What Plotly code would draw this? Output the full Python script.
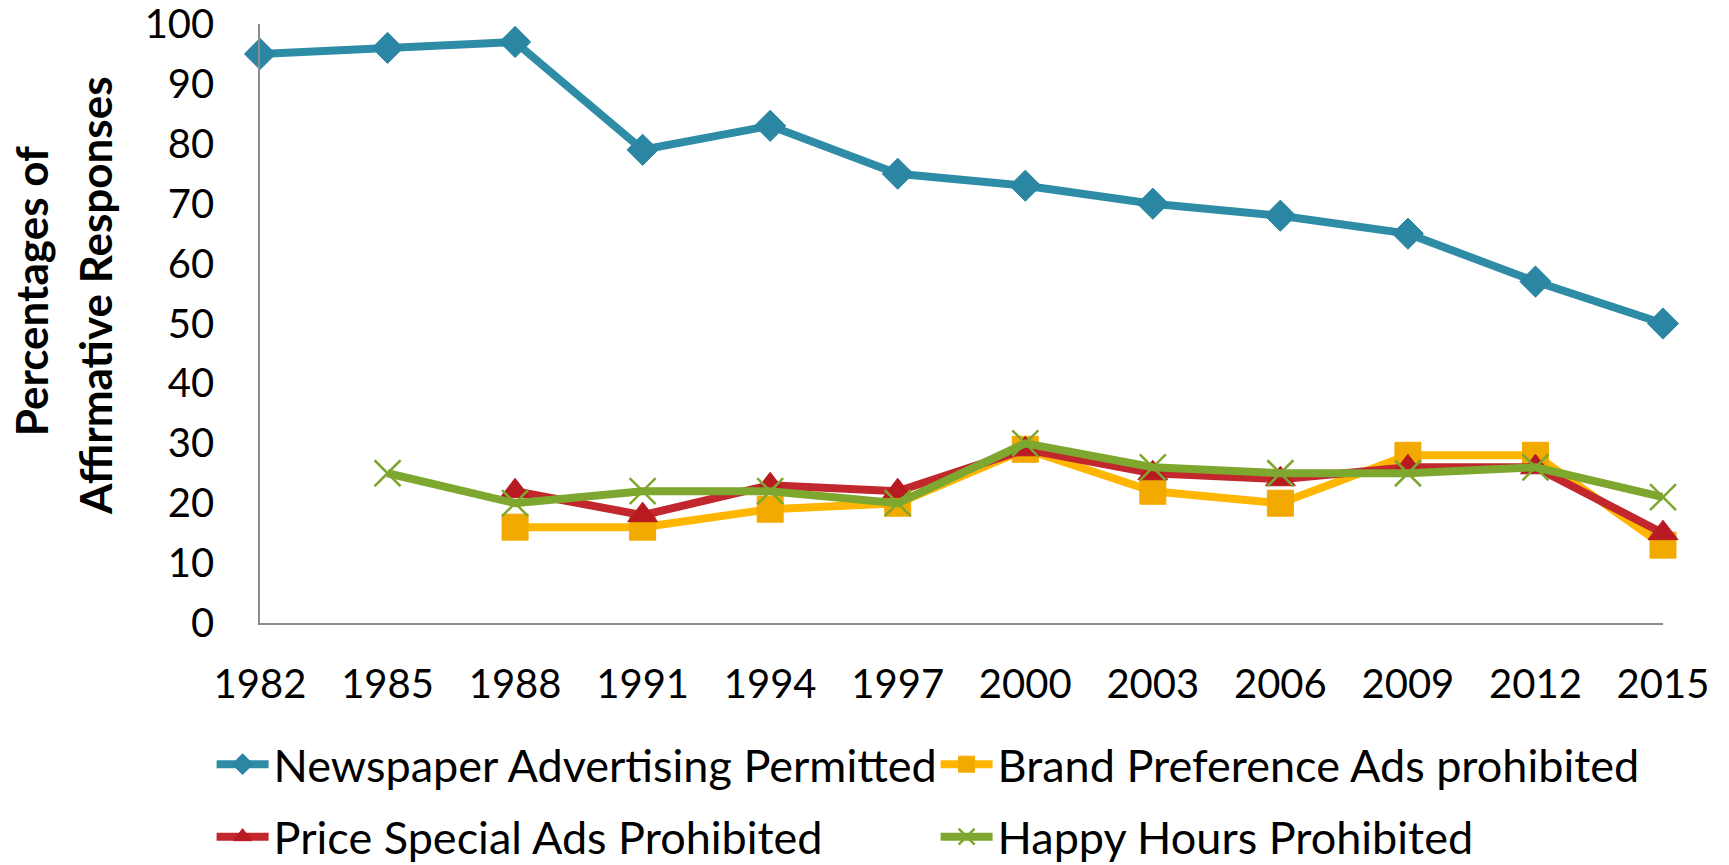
import plotly.graph_objects as go

years = [1982, 1985, 1988, 1991, 1994, 1997, 2000, 2003, 2006, 2009, 2012, 2015]
newspaper = [95, 96, 97, 79, 83, 75, 73, 70, 68, 65, 57, 50]
brand = [None, None, 16, 16, 19, 20, 29, 22, 20, 28, 28, 13]
price = [None, None, 22, 18, 23, 22, 29, 25, 24, 26, 26, 15]
happy = [None, 25, 20, 22, 22, 20, 30, 26, 25, 25, 26, 21]
y_ticks = [0, 10, 20, 30, 40, 50, 60, 70, 80, 90, 100]

names = ["Newspaper Advertising Permitted", "Brand Preference Ads prohibited",
         "Price Special Ads Prohibited", "Happy Hours Prohibited"]
series = [newspaper, brand, price, happy]
colors = ["#2F8CA7", "#FFB600", "#C1272D", "#7DA72F"]
mcolors = ["#2A86A2", "#F2A900", "#B81A22", "#7DA72F"]
symbols = ["diamond", "square", "triangle-up", "x-thin"]
sizes = [24, 26, 26, 26]
legend_ids = ["legend", "legend", "legend2", "legend2"]
title_lines = ["Percentages of", "Affirmative Responses"]

FONT = "Lato"

fig = go.Figure()
for name, vals, c, mc, sym, sz, lg in zip(names, series, colors, mcolors, symbols, sizes, legend_ids):
    if sym == "x-thin":
        marker = dict(symbol=sym, size=sz, color=mc, line=dict(color=mc, width=2.5))
    else:
        marker = dict(symbol=sym, size=sz, color=mc, line=dict(color=mc, width=1))
    fig.add_trace(go.Scatter(
        x=years, y=vals, name=name, mode="lines+markers",
        line=dict(color=c, width=8), marker=marker,
        cliponaxis=False, connectgaps=False, legend=lg,
    ))

legend_common = dict(
    orientation="h", xanchor="left", yanchor="top",
    font=dict(family=FONT, size=45, color="black"),
    entrywidth=657, entrywidthmode="pixels",
    itemwidth=52, bgcolor="rgba(0,0,0,0)",
)

fig.update_layout(
    width=1729, height=865,
    margin=dict(l=260, r=66, t=24, b=242, autoexpand=False),
    paper_bgcolor="white", plot_bgcolor="white",
    font=dict(family=FONT, size=40, color="black"),
    showlegend=True,
    legend=dict(x=-0.0345, y=-0.176, **legend_common),
    legend2=dict(x=-0.0345, y=-0.297, **legend_common),
    xaxis=dict(
        range=[1982, 2015], tickvals=years, ticktext=[str(y) for y in years],
        showgrid=False, zeroline=False, showline=True, linecolor="#8C8C8C", linewidth=1.5,
        ticks="", ticklabelstandoff=25, tickfont=dict(family=FONT, size=40),
        automargin=False, ticklabeloverflow="allow",
    ),
    yaxis=dict(
        range=[0, 100], tickvals=y_ticks,
        showgrid=False, zeroline=False, showline=True, linecolor="#8C8C8C", linewidth=1.5,
        ticks="", ticklabelstandoff=36, tickfont=dict(family=FONT, size=40),
        automargin=False, ticklabeloverflow="allow",
    ),
    annotations=[
        dict(text="<b>%s</b>" % title_lines[0], xref="paper", yref="paper",
             x=-0.1632, y=0.554, xanchor="center", yanchor="middle", textangle=-90,
             showarrow=False, font=dict(family=FONT, size=44, color="black")),
        dict(text="<b>%s</b>" % title_lines[1], xref="paper", yref="paper",
             x=-0.1176, y=0.546, xanchor="center", yanchor="middle", textangle=-90,
             showarrow=False, font=dict(family=FONT, size=44, color="black")),
    ],
)

fig.write_html(
    "out.html",
    config={"displayModeBar": False},
    post_script="document.body.style.margin='0px';document.body.style.overflow='hidden';",
)
